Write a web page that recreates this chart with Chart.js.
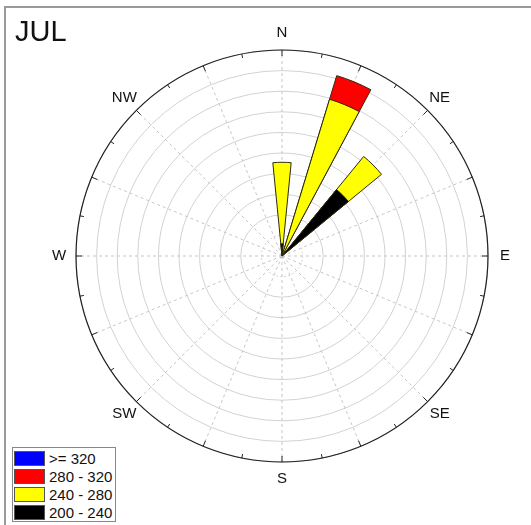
<!DOCTYPE html>
<html>
<head>
<meta charset="utf-8">
<script src="https://cdn.jsdelivr.net/npm/chart.js@4"></script>
<style>
  body { margin: 0; background: #fff; font-family: "Liberation Sans", Arial, sans-serif; }
  #wrap { position: relative; width: 531px; height: 525px; overflow: hidden; }
  #frame { position: absolute; left: 4px; top: 6px; right: -10px; bottom: -10px;
           border-top: 2px solid #9a9a9a; border-left: 2px solid #9a9a9a; }
  #title { position: absolute; left: 15px; top: 15px; font-size: 29px; color: #111; }
  #legend { position: absolute; left: 12px; top: 447px; width: 101px; border: 1px solid #888;
            background: #fff; padding: 1px 0 0 1px; }
  .row { display: flex; align-items: center; height: 18px; font-size: 15px; color: #111; }
  .sw { width: 31px; height: 15px; border: 1px solid #555; margin-right: 4px; box-sizing: border-box; }
  canvas { position: absolute; left: 0; top: 0; }
</style>
</head>
<body>
<div id="wrap">
  <div id="frame"></div>
  <canvas id="rose" width="531" height="525"></canvas>
  <div id="title">JUL</div>
  <div id="legend"></div>
</div>
<script>
// 32 direction sectors, clockwise from north
const directions = ['N', 'NbE', 'NNE', 'NEbN', 'NE', 'NEbE', 'ENE', 'EbN',
  'E', 'EbS', 'ESE', 'SEbE', 'SE', 'SEbS', 'SSE', 'SbE',
  'S', 'SbW', 'SSW', 'SWbS', 'SW', 'SWbW', 'WSW', 'WbS',
  'W', 'WbN', 'WNW', 'NWbW', 'NW', 'NWbN', 'NNW', 'NbW'];
const compassLabels = ['N', 'NE', 'E', 'SE', 'S', 'SW', 'W', 'NW'];

const speedBins = ['200 - 240', '240 - 280', '280 - 320', '>= 320'];
const binColors = ['#000000', '#ffff00', '#ff0000', '#0000ff'];

// frequency per sector for each bin (ring units)
const bin200 = [0.6, 0, 0, 0, 4.17, 0, 0, 0, 0, 0, 0, 0, 0, 0, 0, 0,
  0, 0, 0, 0, 0, 0, 0, 0, 0, 0, 0, 0, 0, 0, 0, 0];
const bin240 = [3.95, 0, 7.95, 0, 2.08, 0, 0, 0, 0, 0, 0, 0, 0, 0, 0, 0,
  0, 0, 0, 0, 0, 0, 0, 0, 0, 0, 0, 0, 0, 0, 0, 0];
const bin280 = [0, 0, 1.2, 0, 0, 0, 0, 0, 0, 0, 0, 0, 0, 0, 0, 0,
  0, 0, 0, 0, 0, 0, 0, 0, 0, 0, 0, 0, 0, 0, 0, 0];
const bin320 = [0, 0, 0, 0, 0, 0, 0, 0, 0, 0, 0, 0, 0, 0, 0, 0,
  0, 0, 0, 0, 0, 0, 0, 0, 0, 0, 0, 0, 0, 0, 0, 0];

const ringMax = 10;
const ringStep = 1;

// polarArea does not stack, so draw cumulative totals overlapped (first dataset on top)
const bins = [bin200, bin240, bin280, bin320];
const running = directions.map(() => 0);
const datasets = bins.map((vals, b) => {
  const data = vals.map((v, i) => {
    running[i] += v;
    return v > 0 ? running[i] : null;
  });
  return {
    label: speedBins[b],
    data: data,
    backgroundColor: binColors[b],
    borderColor: '#2a2a10',
    borderWidth: 1
  };
});

const sectorAngle = 360 / directions.length;

const compassPlugin = {
  id: 'compass',
  beforeDatasetsDraw(chart) {
    const s = chart.scales.r;
    const c = chart.ctx;
    c.save();
    c.strokeStyle = '#c6c6c6';
    c.lineWidth = 1;
    c.setLineDash([3, 3]);
    for (let k = 0; k < directions.length / 2; k++) {
      const a = (k * sectorAngle * 2 - 90) * Math.PI / 180;
      c.beginPath();
      c.moveTo(s.xCenter, s.yCenter);
      c.lineTo(s.xCenter + s.drawingArea * Math.cos(a), s.yCenter + s.drawingArea * Math.sin(a));
      c.stroke();
    }
    c.restore();
  },
  afterDatasetsDraw(chart) {
    const s = chart.scales.r;
    const c = chart.ctx;
    const R = s.drawingArea;
    c.save();
    c.strokeStyle = '#222';
    c.lineWidth = 1.2;
    c.beginPath();
    c.arc(s.xCenter, s.yCenter, R, 0, Math.PI * 2);
    c.stroke();
    c.lineWidth = 1;
    for (let k = 0; k < directions.length; k++) {
      const a = (k * sectorAngle - 90) * Math.PI / 180;
      const len = k % 2 === 0 ? 6 : 4;
      c.beginPath();
      c.moveTo(s.xCenter + R * Math.cos(a), s.yCenter + R * Math.sin(a));
      c.lineTo(s.xCenter + (R - len) * Math.cos(a), s.yCenter + (R - len) * Math.sin(a));
      c.stroke();
    }
    c.fillStyle = '#111';
    c.font = '15px "Liberation Sans", Arial, sans-serif';
    c.textAlign = 'center';
    c.textBaseline = 'middle';
    compassLabels.forEach((lab, k) => {
      const a = (k * 45 - 90) * Math.PI / 180;
      const rr = R + 17;
      c.fillText(lab, s.xCenter + rr * Math.cos(a), s.yCenter + rr * Math.sin(a));
    });
    c.restore();
  }
};

new Chart(document.getElementById('rose'), {
  type: 'polarArea',
  data: { labels: directions, datasets: datasets },
  options: {
    responsive: false,
    animation: false,
    layout: { padding: { left: 76, right: 43, top: 50, bottom: 63 } },
    plugins: { legend: { display: false }, tooltip: { enabled: false }, title: { display: false } },
    scales: {
      r: {
        min: 0,
        max: ringMax,
        startAngle: -sectorAngle / 2,
        ticks: { display: false, stepSize: ringStep },
        grid: { circular: true, color: '#d2d2d2', lineWidth: 1 },
        border: { dash: ctx => ctx.index === 1 ? [2, 2] : [] },
        angleLines: { display: false },
        pointLabels: { display: false }
      }
    }
  },
  plugins: [compassPlugin]
});

// legend, highest bin first
const legend = document.getElementById('legend');
for (let b = speedBins.length - 1; b >= 0; b--) {
  const row = document.createElement('div');
  row.className = 'row';
  const sw = document.createElement('div');
  sw.className = 'sw';
  sw.style.background = binColors[b];
  const txt = document.createElement('span');
  txt.textContent = speedBins[b];
  row.appendChild(sw);
  row.appendChild(txt);
  legend.appendChild(row);
}
</script>
</body>
</html>
